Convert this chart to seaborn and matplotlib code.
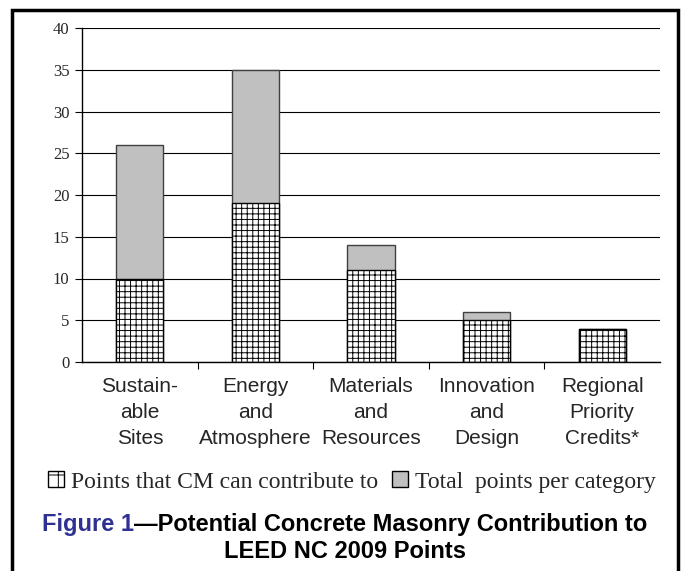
import matplotlib
matplotlib.use('Agg')
import matplotlib.pyplot as plt
from matplotlib.patches import Patch, Rectangle
import seaborn as sns
import pandas as pd

sns.set_style("ticks")
plt.rcParams['font.family'] = ['Liberation Sans', 'DejaVu Sans']
plt.rcParams['hatch.linewidth'] = 0.7

categories = ['Sustain-\nable\nSites', 'Energy\nand\nAtmosphere', 'Materials\nand\nResources',
              'Innovation\nand\nDesign', 'Regional\nPriority\nCredits*']
total_points = [26, 35, 14, 6, 4]
cm_points = [10, 19, 11, 5, 4]
y_ticks = [0, 5, 10, 15, 20, 25, 30, 35, 40]

df = pd.DataFrame({'category': categories, 'total': total_points, 'cm': cm_points})

W, H = 683, 571
fig = plt.figure(figsize=(W / 100, H / 100), dpi=100)
ax = fig.add_axes([82 / W, 1 - 362 / H, (660 - 82) / W, (362 - 28) / H])

# total points behind, CM points hatched in front
sns.barplot(data=df, x='category', y='total', color='#c0c0c0', edgecolor='#404040',
            linewidth=1, width=0.41, saturation=1, ax=ax)
sns.barplot(data=df, x='category', y='cm', color='white', edgecolor='black',
            linewidth=1, width=0.41, saturation=1, ax=ax)
for bar in ax.patches[len(categories):]:
    bar.set_hatch('+++')

ax.set_xlim(-0.5, len(categories) - 0.5)
ax.set_ylim(0, 40)
ax.set_yticks(y_ticks)
ax.set_yticklabels([str(v) for v in y_ticks], family='Liberation Serif', fontsize=12)
ax.yaxis.grid(True, color='black', lw=0.8)
ax.set_axisbelow(True)
ax.set_xlabel('')
ax.set_ylabel('')

ax.set_xticks(range(len(categories)))
ax.set_xticklabels(categories, fontsize=15, linespacing=1.45)
ax.set_xticks([i + 0.5 for i in range(len(categories) - 1)], minor=True)
ax.tick_params(axis='x', which='major', length=0, pad=11)
ax.tick_params(axis='x', which='minor', length=5, width=0.8, color='black')
ax.tick_params(axis='y', length=5, width=0.8, color='black', pad=4)

for s in ['top', 'right']:
    ax.spines[s].set_visible(False)
for s in ['left', 'bottom']:
    ax.spines[s].set_color('black')
    ax.spines[s].set_linewidth(1)

handles = [Patch(facecolor='white', edgecolor='black', hatch='+', label='Points that CM can contribute to'),
           Patch(facecolor='#c0c0c0', edgecolor='black', label='Total  points per category')]
fig.legend(handles=handles, loc='center', bbox_to_anchor=(352 / W, 1 - 482 / H), ncol=2,
           frameon=False, prop={'family': 'Liberation Serif', 'size': 17},
           handlelength=0.65, handleheight=0.65, handletextpad=0.3, columnspacing=0.6)

# caption
cap_y1 = 1 - 525 / H
cap_y2 = 1 - 551 / H
cx = 345 / W
t1 = fig.text(0, cap_y1, 'Figure 1', color='#2e3192', fontsize=17, fontweight='bold', va='center')
t2 = fig.text(0, cap_y1, '\u2014Potential Concrete Masonry Contribution to', color='black',
              fontsize=17, fontweight='bold', va='center')
fig.canvas.draw()
r = fig.canvas.get_renderer()
w1 = t1.get_window_extent(r).width / W
w2 = t2.get_window_extent(r).width / W
x0 = cx - (w1 + w2) / 2
t1.set_x(x0)
t2.set_x(x0 + w1)
fig.text(cx, cap_y2, 'LEED NC 2009 Points', color='black', fontsize=17, fontweight='bold',
         ha='center', va='center')

fig.add_artist(Rectangle((12 / W, -0.02), (678 - 12) / W, 1 - 10 / H + 0.02, fill=False,
                         edgecolor='black', lw=2.5, transform=fig.transFigure))

fig.savefig('out.png', dpi=100)
